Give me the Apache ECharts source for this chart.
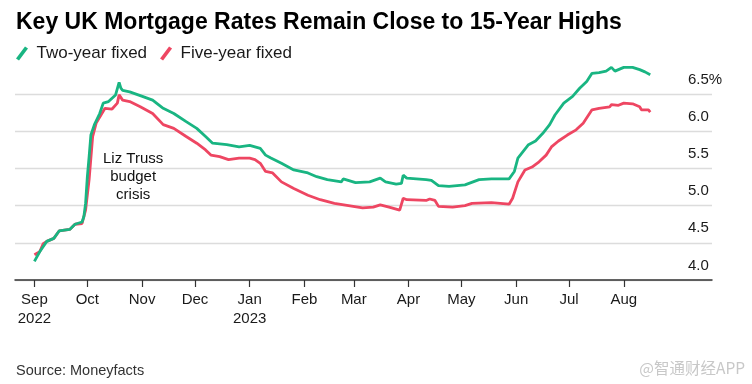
<!DOCTYPE html>
<html><head><meta charset="utf-8">
<script src="https://cdn.jsdelivr.net/npm/echarts@6/dist/echarts.min.js"></script>
<style>html,body{margin:0;padding:0;background:#fff}#c{width:752px;height:384px}</style>
</head><body><div id="c"></div>
<script>
// ---- data ----
const monthTicks = ['2022-09-01','2022-10-01','2022-11-01','2022-12-01','2023-01-01','2023-02-01','2023-03-01','2023-04-01','2023-05-01','2023-06-01','2023-07-01','2023-08-01'];
const monthNames = ['Jan','Feb','Mar','Apr','May','Jun','Jul','Aug','Sep','Oct','Nov','Dec'];
const yTicks = [4.0, 4.5, 5.0, 5.5, 6.0, 6.5];
const seriesNames = ['Two-year fixed', 'Five-year fixed'];

const twoYearDates = ['2022-09-01','2022-09-04','2022-09-08','2022-09-12','2022-09-15','2022-09-21','2022-09-24','2022-09-28','2022-09-29','2022-09-30','2022-10-01','2022-10-02','2022-10-03','2022-10-05','2022-10-08','2022-10-10','2022-10-13','2022-10-17','2022-10-19','2022-10-20','2022-10-21','2022-10-25','2022-10-31','2022-11-07','2022-11-13','2022-11-19','2022-11-26','2022-12-02','2022-12-07','2022-12-11','2022-12-19','2022-12-26','2023-01-01','2023-01-04','2023-01-07','2023-01-10','2023-01-13','2023-01-19','2023-01-26','2023-02-03','2023-02-08','2023-02-14','2023-02-22','2023-02-23','2023-03-02','2023-03-10','2023-03-16','2023-03-19','2023-03-25','2023-03-28','2023-03-29','2023-03-31','2023-04-11','2023-04-14','2023-04-18','2023-04-24','2023-05-03','2023-05-11','2023-05-18','2023-05-28','2023-05-31','2023-06-02','2023-06-05','2023-06-08','2023-06-12','2023-06-16','2023-06-20','2023-06-23','2023-06-28','2023-07-03','2023-07-07','2023-07-11','2023-07-14','2023-07-18','2023-07-22','2023-07-25','2023-07-27','2023-08-01','2023-08-06','2023-08-10','2023-08-13','2023-08-16'];
const twoYearRates = [4.25,4.38,4.52,4.56,4.66,4.68,4.75,4.78,4.85,5.03,5.39,5.66,5.95,6.09,6.24,6.38,6.40,6.49,6.66,6.58,6.55,6.53,6.48,6.42,6.31,6.24,6.13,6.04,5.93,5.84,5.82,5.79,5.81,5.79,5.77,5.68,5.64,5.57,5.48,5.44,5.39,5.35,5.32,5.36,5.31,5.32,5.37,5.32,5.29,5.30,5.41,5.37,5.35,5.34,5.27,5.26,5.28,5.35,5.36,5.36,5.46,5.64,5.73,5.82,5.87,5.97,6.09,6.22,6.38,6.47,6.58,6.67,6.78,6.79,6.81,6.86,6.81,6.86,6.86,6.83,6.80,6.76];

const fiveYearDates = ['2022-09-01','2022-09-04','2022-09-06','2022-09-08','2022-09-12','2022-09-15','2022-09-21','2022-09-24','2022-09-28','2022-09-30','2022-10-02','2022-10-04','2022-10-06','2022-10-11','2022-10-15','2022-10-18','2022-10-19','2022-10-21','2022-10-25','2022-10-31','2022-11-07','2022-11-13','2022-11-19','2022-11-26','2022-12-02','2022-12-07','2022-12-10','2022-12-15','2022-12-20','2022-12-26','2023-01-01','2023-01-04','2023-01-07','2023-01-10','2023-01-14','2023-01-19','2023-01-26','2023-02-03','2023-02-10','2023-02-18','2023-02-26','2023-03-06','2023-03-12','2023-03-16','2023-03-21','2023-03-27','2023-03-29','2023-03-31','2023-04-11','2023-04-13','2023-04-16','2023-04-18','2023-04-26','2023-05-03','2023-05-07','2023-05-18','2023-05-28','2023-05-30','2023-06-02','2023-06-06','2023-06-10','2023-06-14','2023-06-18','2023-06-21','2023-06-25','2023-06-30','2023-07-05','2023-07-09','2023-07-14','2023-07-18','2023-07-24','2023-07-25','2023-07-29','2023-08-01','2023-08-06','2023-08-10','2023-08-11','2023-08-15','2023-08-16'];
const fiveYearRates = [4.34,4.38,4.49,4.52,4.56,4.66,4.68,4.75,4.76,4.94,5.35,5.93,6.11,6.31,6.30,6.38,6.49,6.42,6.40,6.33,6.24,6.09,6.04,5.93,5.84,5.75,5.68,5.66,5.62,5.64,5.64,5.62,5.57,5.46,5.44,5.32,5.23,5.14,5.08,5.03,5.00,4.97,4.98,5.01,4.98,4.94,5.10,5.08,5.07,5.09,5.07,4.99,4.98,5.00,5.03,5.04,5.02,5.10,5.32,5.48,5.52,5.59,5.68,5.79,5.87,5.95,6.02,6.11,6.29,6.31,6.33,6.36,6.35,6.38,6.37,6.33,6.29,6.29,6.26];

// ---- helpers ----
function t(s) { const p = s.split('-').map(Number); return new Date(p[0], p[1] - 1, p[2]).getTime(); }
function pairs(dates, vals) { return dates.map((d, i) => [t(d), vals[i]]); }

const GREEN = '#19b582', RED = '#ee4662';
const FONT = '"Liberation Sans", Arial, sans-serif';
const tickTimes = monthTicks.map(t);

const chart = echarts.init(document.getElementById('c'), null, { renderer: 'canvas' });
chart.setOption({
  backgroundColor: '#fff',
  animation: false,
  textStyle: { fontFamily: FONT },
  title: {
    text: 'Key UK Mortgage Rates Remain Close to 15-Year Highs',
    left: 11, top: 6,
    textStyle: { fontFamily: FONT, fontWeight: 'bold', fontSize: 23, color: '#000' }
  },
  legend: {
    data: seriesNames,
    left: 11, top: 40,
    itemWidth: 13, itemHeight: 14, itemGap: 13,
    icon: 'path://M0,12 L9,0 L12,2 L3,14 Z',
    textStyle: { fontFamily: FONT, fontSize: 17, color: '#1a1a1a', padding: [0, 0, 0, 3] }
  },
  grid: { left: 15, right: 40, top: 57, bottom: 104, containLabel: false },
  xAxis: {
    type: 'value',
    min: t('2022-08-21'), max: t('2023-09-20'),
    axisLine: { show: true, lineStyle: { color: '#333', width: 1.5 } },
    axisTick: { show: true, customValues: tickTimes, length: 7, lineStyle: { color: '#333', width: 1.2 } },
    axisLabel: {
      customValues: tickTimes,
      fontFamily: FONT, fontSize: 15, color: '#1a1a1a', margin: 10, lineHeight: 19,
      formatter: function (v) {
        const d = new Date(v);
        const m = monthNames[d.getMonth()];
        if (d.getMonth() === 0 || (d.getFullYear() === 2022 && d.getMonth() === 8)) return m + '\n' + d.getFullYear();
        return m;
      }
    },
    splitLine: { show: false }
  },
  yAxis: {
    type: 'value', position: 'right',
    min: 4, max: 7, interval: 0.5,
    axisLine: { show: false }, axisTick: { show: false },
    splitLine: { show: true, showMaxLine: false, lineStyle: { color: '#dcdcdc', width: 1.3 } },
    axisLabel: {
      inside: true, align: 'left', margin: 24, verticalAlign: 'bottom',
      padding: [0, 0, 7, 0], showMaxLabel: false,
      fontFamily: FONT, fontSize: 15, color: '#1a1a1a',
      formatter: function (v) {
        if (Math.abs(v - yTicks[yTicks.length - 1]) < 1e-9) return v.toFixed(1) + '%';
        return v.toFixed(1);
      }
    }
  },
  graphic: [
    { type: 'text', left: 103, top: 150,
      style: { text: 'Liz Truss\nbudget\ncrisis', fontFamily: FONT, fontSize: 15, lineHeight: 18, fill: '#111', textAlign: 'center' } },
    { type: 'text', left: 16, top: 363,
      style: { text: 'Source: Moneyfacts', fontFamily: FONT, fontSize: 14.5, fill: '#333' } },
    { type: 'text', right: 7, top: 360,
      style: { text: '@智通财经APP', fontFamily: '"Noto Sans CJK SC", sans-serif', fontSize: 15.5, fill: '#c8c8c8' } }
  ],
  series: [
    { name: seriesNames[1], type: 'line', data: pairs(fiveYearDates, fiveYearRates), showSymbol: false,
      lineStyle: { color: RED, width: 2.8 }, itemStyle: { color: RED } },
    { name: seriesNames[0], type: 'line', data: pairs(twoYearDates, twoYearRates), showSymbol: false,
      lineStyle: { color: GREEN, width: 2.8 }, itemStyle: { color: GREEN } }
  ]
});
</script>
</body></html>
